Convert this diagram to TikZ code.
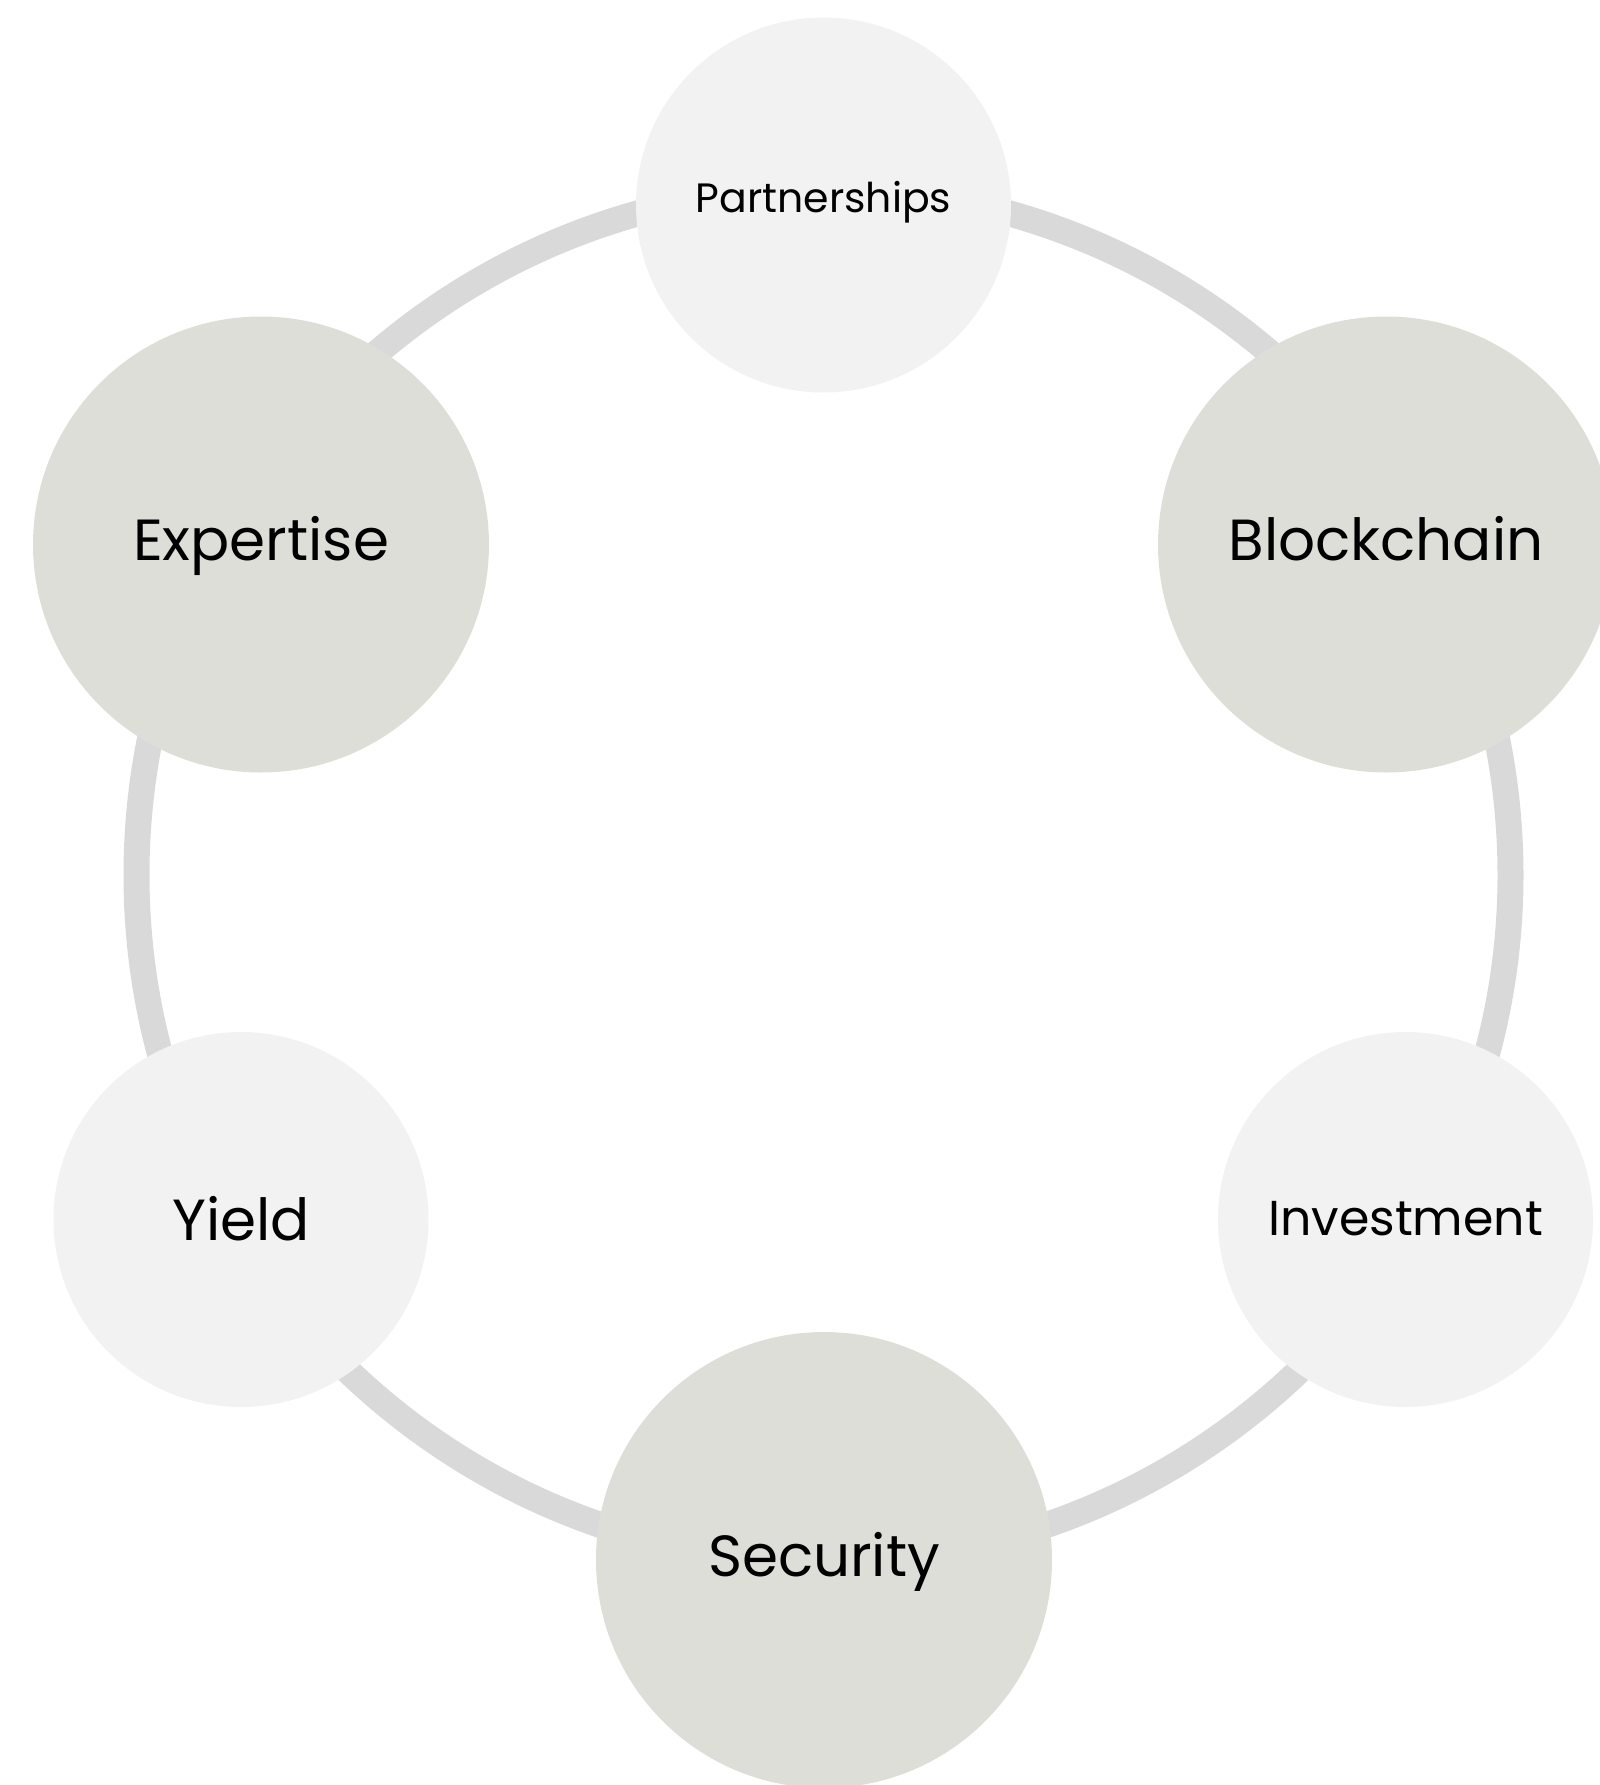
\documentclass[tikz,border=0pt]{standalone}
\usepackage{fontspec}
\setmainfont{Poppins}
\usetikzlibrary{positioning,shapes}

\definecolor{ringgray}{HTML}{D9D9D9}
\definecolor{paletone}{HTML}{F2F2F2}
\definecolor{stonetone}{HTML}{DEDED9}

\tikzset{
  bigdisc/.style={circle,fill=stonetone,minimum size=456pt,inner sep=0pt,
    font=\fontsize{58}{60}\selectfont,text height=40pt,text depth=8pt},
  smalldisc/.style={circle,fill=paletone,minimum size=375pt,inner sep=0pt,
    text height=37pt,text depth=6pt}
}

\begin{document}
\begin{tikzpicture}[x=1pt,y=-1pt]
\useasboundingbox (0,0) rectangle (1599,1785);
% ring behind the discs
\draw [ringgray,line width=26pt] (823.5,875) circle [radius=687];
\node at (823.5,205) [smalldisc,font=\fontsize{41}{43}\selectfont,text height=30pt,text depth=16pt] (pa) {Partnerships};
\node at (1386,544.5) [bigdisc] (bl) {Blockchain};
\node at (1405.5,1219.5) [smalldisc,font=\fontsize{49}{51}\selectfont] (in) {Investment};
\node at (824,1560) [bigdisc] (se) {Security};
\node at (241,1219.5) [smalldisc,font=\fontsize{58}{60}\selectfont,text height=45pt,text depth=4pt] (yi) {Yield};
\node at (261,544.5) [bigdisc] (ex) {Expertise};
\end{tikzpicture}
\end{document}
